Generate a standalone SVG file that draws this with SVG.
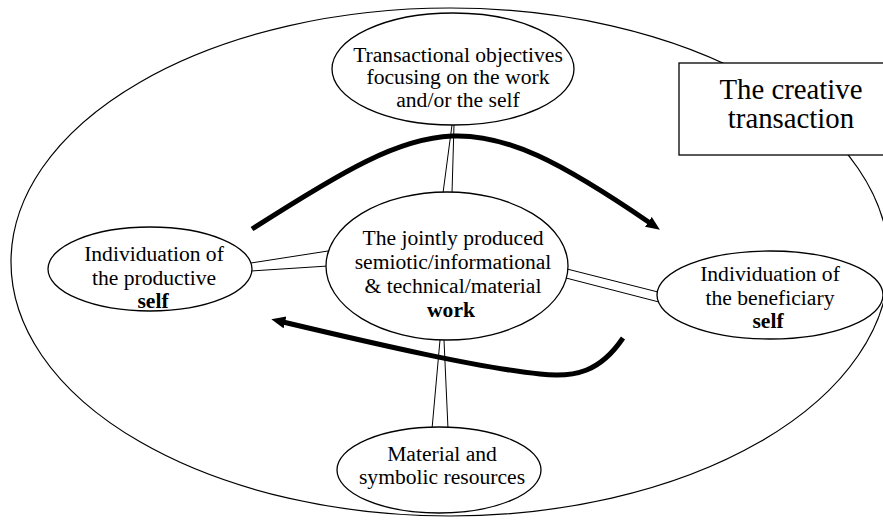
<svg xmlns="http://www.w3.org/2000/svg" width="883" height="521" viewBox="0 0 883 521">
<style>
.t{font-family:"Liberation Serif","Times New Roman",serif;font-size:21.6px;fill:#000;text-anchor:middle}
.big{font-size:28.8px}
.b{font-weight:bold}
.node{fill:#fff;stroke:#000;stroke-width:1.3}
.thin{stroke:#000;stroke-width:1;fill:none}
.thick{stroke:#000;stroke-width:5;fill:none}
</style>
<defs>
<marker id="ah" markerUnits="userSpaceOnUse" markerWidth="16" markerHeight="14" refX="2" refY="6" orient="auto">
<path d="M0,0 L14,6 L0,12 z" fill="#000"/>
</marker>
</defs>
<rect width="883" height="521" fill="#fff"/>
<g id="container">
<ellipse cx="450" cy="262" rx="439" ry="254" fill="none" stroke="#000" stroke-width="1.2"/>
</g>
<g id="connectors">
<line class="thin" x1="452" y1="125" x2="443" y2="193"/>
<line class="thin" x1="454" y1="125" x2="452" y2="193"/>
<line class="thin" x1="440" y1="340" x2="432" y2="429"/>
<line class="thin" x1="444" y1="340" x2="448" y2="429"/>
<line class="thin" x1="251" y1="263" x2="328" y2="251"/>
<line class="thin" x1="251" y1="271" x2="328" y2="266"/>
<line class="thin" x1="567" y1="269" x2="658" y2="292"/>
<line class="thin" x1="566" y1="278" x2="659" y2="302"/>
<path class="thick" d="M252,229 C435,112 470,100 650,223" marker-end="url(#ah)"/>
<path class="thick" d="M623,338 C600,372 575,378 540,374 C480,368 380,345 283,322" marker-end="url(#ah)"/>
</g>
<g id="node-objectives">
<ellipse class="node" cx="453" cy="69" rx="121" ry="56"/>
<text class="t" x="458" y="62">Transactional objectives</text>
<text class="t" x="458" y="84">focusing on the work</text>
<text class="t" x="458" y="107">and/or the self</text>
</g>
<g id="node-title">
<rect x="679" y="63" width="230" height="92" fill="#fff" stroke="#000" stroke-width="1.3"/>
<text class="t big" x="791" y="99">The creative</text>
<text class="t big" x="791" y="128">transaction</text>
</g>
<g id="node-productive">
<ellipse class="node" cx="150" cy="269" rx="102" ry="42"/>
<text class="t" x="154" y="261">Individuation of</text>
<text class="t" x="154" y="285">the productive</text>
<text class="t b" x="153" y="308">self</text>
</g>
<g id="node-work">
<ellipse class="node" cx="447" cy="266" rx="121" ry="74"/>
<text class="t" x="453" y="245">The jointly produced</text>
<text class="t" x="453" y="269">semiotic/informational</text>
<text class="t" x="453" y="293">&amp; technical/material</text>
<text class="t b" x="451" y="317">work</text>
</g>
<g id="node-beneficiary">
<ellipse class="node" cx="770" cy="295" rx="113" ry="44"/>
<text class="t" x="770" y="281">Individuation of</text>
<text class="t" x="770" y="305">the beneficiary</text>
<text class="t b" x="768" y="328">self</text>
</g>
<g id="node-resources">
<ellipse class="node" cx="439" cy="470" rx="102" ry="43"/>
<text class="t" x="442" y="461">Material and</text>
<text class="t" x="442" y="484">symbolic resources</text>
</g>
</svg>
